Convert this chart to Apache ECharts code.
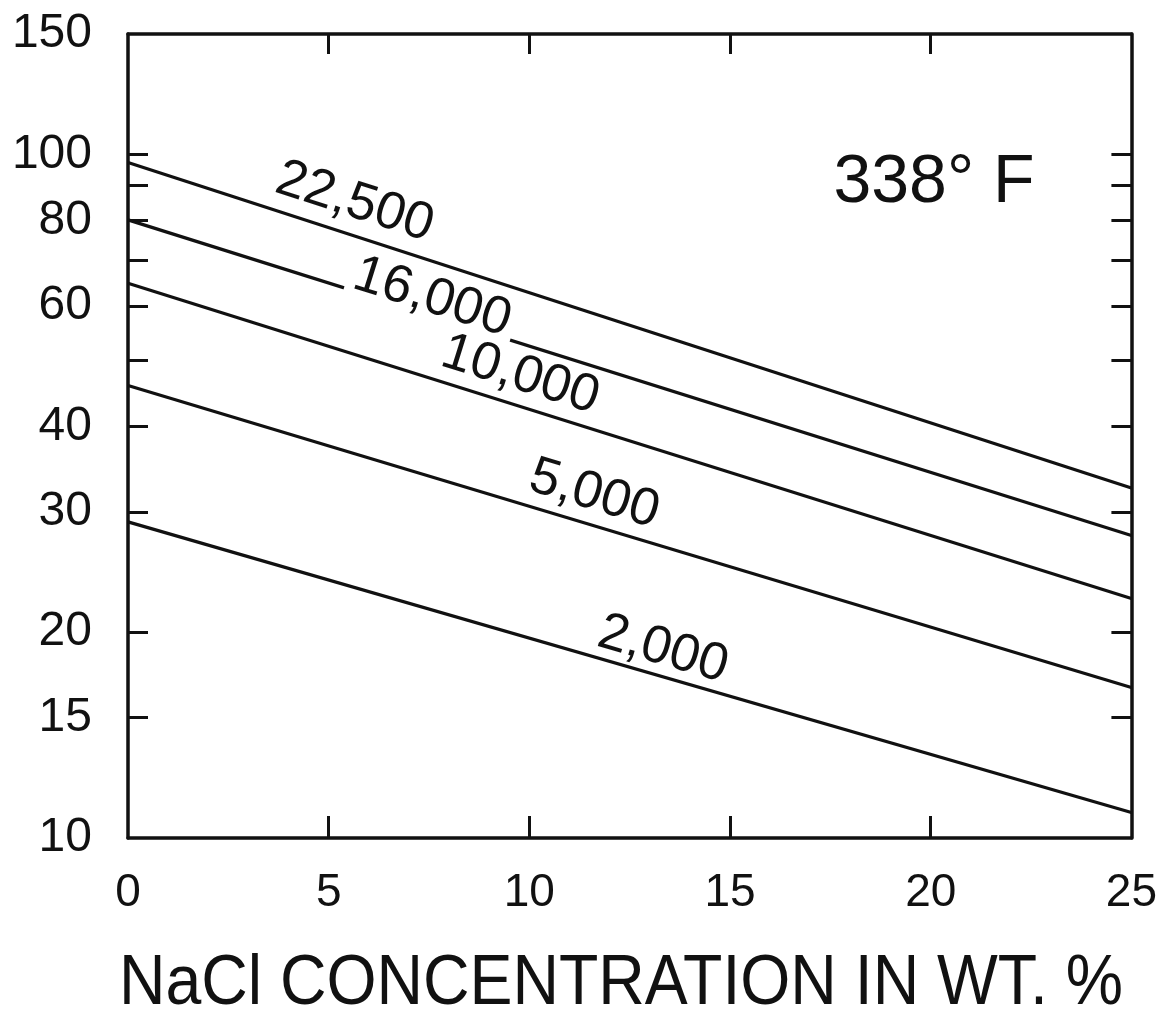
<!DOCTYPE html>
<html>
<head>
<meta charset="utf-8">
<script src="https://cdn.jsdelivr.net/npm/echarts@6/dist/echarts.min.js"></script>
<style>
  html, body { margin: 0; padding: 0; background: #fff; }
  #chart { width: 1160px; height: 1030px; }
</style>
</head>
<body>
<div id="chart"></div>
<script>
// x: NaCl concentration (wt. %), both ends of every curve
const naclPct = [0, 25];

// curves, read at 0 % and at 25 % NaCl
const curveNames = ['22,500', '16,000', '10,000', '5,000', '2,000'];
const valueAt0 = [97.3, 80.2, 64.8, 45.9, 29.0];
const valueAt25 = [32.5, 27.7, 22.4, 16.6, 10.9];

// axis ticks and labels
const yLabelValues = [10, 15, 20, 30, 40, 60, 80, 100, 150];
const yTickValues = [15, 20, 30, 40, 50, 60, 70, 80, 90, 100];
const xTickValues = [5, 10, 15, 20];

const tempLabel = '338\u00B0 F';
const xTitle = 'NaCl CONCENTRATION IN WT. %';

// curve label placement: x (wt. %) along the curve, lift above the curve (px)
const labelAtX = [5.4, 7.45, 9.55, 11.4, 13.15];
const labelLift = [32, 17, 30, 30, 26];

const FONT = '"Liberation Sans", Arial, Helvetica, sans-serif';
const INK = '#111';
const lg = v => Math.log10(v);

const chart = echarts.init(document.getElementById('chart'));

const frameLine = { show: true, onZero: false, lineStyle: { color: INK, width: 3.5 } };
const innerTick = (vals, len) => ({
  show: true, inside: true, length: len, customValues: vals,
  lineStyle: { color: INK, width: 3 }
});

const option = {
  animation: false,
  backgroundColor: '#fff',
  grid: { left: 128, right: 27, top: 34, bottom: 192 },
  xAxis: [
    {
      type: 'value', min: 0, max: 25, interval: 5, position: 'bottom',
      axisLine: frameLine,
      axisTick: innerTick(xTickValues, 22),
      axisLabel: { color: INK, fontSize: 46, fontFamily: FONT, margin: 32 },
      splitLine: { show: false }
    },
    {
      type: 'value', min: 0, max: 25, interval: 5, position: 'top',
      axisLine: frameLine,
      axisTick: innerTick(xTickValues, 20),
      axisLabel: { show: false },
      splitLine: { show: false }
    }
  ],
  yAxis: [
    {
      // the curves live on this one
      type: 'log', logBase: 10, min: 10, max: 150, position: 'left',
      axisLine: frameLine,
      axisTick: { show: false },
      axisLabel: { show: false },
      splitLine: { show: false }
    },
    {
      // same scale in log10 units, only for the uneven labels / ticks
      type: 'value', min: 1, max: lg(150), position: 'left',
      axisLine: { show: false, onZero: false },
      axisTick: innerTick(yTickValues.map(lg), 20),
      axisLabel: {
        customValues: yLabelValues.map(lg),
        formatter: v => String(Math.round(Math.pow(10, v))),
        color: INK, fontSize: 48, fontFamily: FONT, margin: 36
      },
      splitLine: { show: false }
    },
    {
      type: 'value', min: 1, max: lg(150), position: 'right',
      axisLine: frameLine,
      axisTick: innerTick(yTickValues.map(lg), 20),
      axisLabel: { show: false },
      splitLine: { show: false }
    }
  ],
  series: curveNames.map((name, i) => ({
    name: name,
    type: 'line',
    xAxisIndex: 0,
    yAxisIndex: 0,
    symbol: 'none',
    silent: true,
    data: [[naclPct[0], valueAt0[i]], [naclPct[1], valueAt25[i]]],
    lineStyle: { color: INK, width: 3.2 }
  }))
};

chart.setOption(option);

// curve labels, turned along each curve
const labels = curveNames.map((name, i) => {
  const p0 = chart.convertToPixel({ xAxisIndex: 0, yAxisIndex: 0 }, [naclPct[0], valueAt0[i]]);
  const p1 = chart.convertToPixel({ xAxisIndex: 0, yAxisIndex: 0 }, [naclPct[1], valueAt25[i]]);
  const t = (labelAtX[i] - naclPct[0]) / (naclPct[1] - naclPct[0]);
  const ang = Math.atan2(p1[1] - p0[1], p1[0] - p0[0]);
  const cx = p0[0] + t * (p1[0] - p0[0]) + Math.sin(ang) * labelLift[i];
  const cy = p0[1] + t * (p1[1] - p0[1]) - Math.cos(ang) * labelLift[i];
  const breaksLine = i === 1; // 16,000 sits across its own line
  return {
    type: 'text', x: cx, y: cy, rotation: -ang, z: 100,
    style: {
      text: name, fontSize: 53, fontFamily: FONT, fill: INK,
      align: 'center', verticalAlign: 'middle',
      textAlign: 'center', textVerticalAlign: 'middle',
      backgroundColor: breaksLine ? '#fff' : 'transparent',
      padding: breaksLine ? [0, 6] : 0
    }
  };
});

chart.setOption({
  graphic: labels.concat([
    {
      type: 'text', x: 934, y: 183, z: 100,
      style: {
        text: tempLabel, fontSize: 68, fontFamily: FONT, fill: INK,
        align: 'center', verticalAlign: 'middle',
        textAlign: 'center', textVerticalAlign: 'middle'
      }
    },
    {
      type: 'text', x: 621, y: 985, z: 100, scaleX: 0.92,
      style: {
        text: xTitle, fontSize: 70, fontFamily: FONT, fill: INK,
        align: 'center', verticalAlign: 'middle',
        textAlign: 'center', textVerticalAlign: 'middle'
      }
    }
  ])
});
</script>
</body>
</html>
